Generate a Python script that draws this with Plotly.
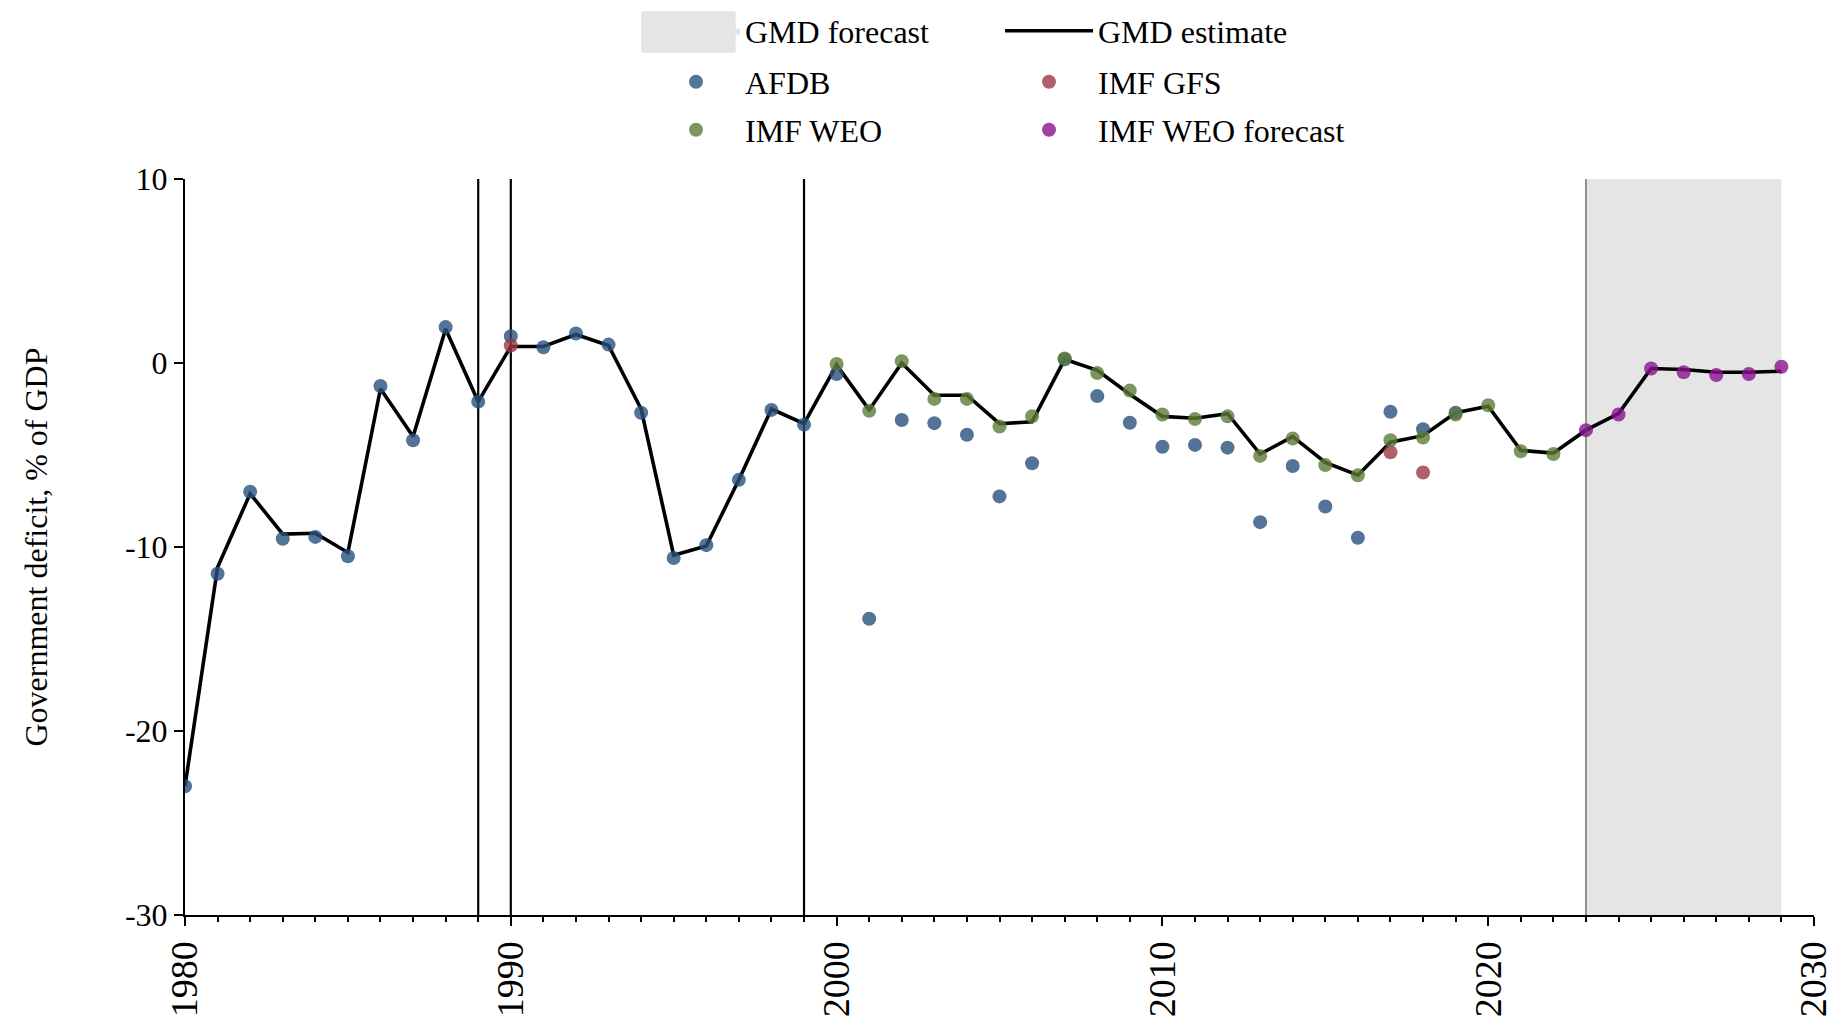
import plotly.graph_objects as go

# ---------------- data ----------------
gmd_years = list(range(1980, 2030))
gmd_estimate = [
    -23.0, -11.1, -7.1, -9.3, -9.25, -10.3, -1.4, -4.0, 1.85, -2.1,
    0.9, 0.9, 1.55, 0.95, -2.5, -10.45, -9.95, -6.35, -2.5, -3.3,
    -0.1, -2.55, 0.0, -1.75, -1.75, -3.3, -3.2, 0.2, -0.4, -1.7,
    -2.9, -3.0, -2.75, -4.95, -4.0, -5.4, -6.1, -4.3, -3.95, -2.7,
    -2.35, -4.75, -4.9, -3.65, -2.75, -0.3, -0.35, -0.5, -0.5, -0.45,
]

afdb_years = list(range(1980, 2020))
afdb_values = [
    -23.0, -11.45, -7.0, -9.55, -9.45, -10.5, -1.25, -4.2, 1.95, -2.1,
    1.45, 0.86, 1.6, 1.0, -2.7, -10.6, -9.9, -6.35, -2.55, -3.35,
    -0.6, -13.9, -3.1, -3.27, -3.9, -7.25, -5.45, 0.2, -1.8, -3.25,
    -4.55, -4.45, -4.6, -8.65, -5.6, -7.8, -9.5, -2.65, -3.6, -2.7,
]

gfs_years = [1990, 2017, 2018]
gfs_values = [0.95, -4.85, -5.95]

weo_years = list(range(2000, 2023))
weo_values = [
    -0.05, -2.6, 0.1, -1.95, -1.95, -3.45, -2.9, 0.25, -0.55, -1.5,
    -2.8, -3.05, -2.9, -5.05, -4.1, -5.55, -6.1, -4.2, -4.05, -2.8,
    -2.3, -4.8, -4.95,
]

weo_fc_years = list(range(2023, 2030))
weo_fc_values = [-3.65, -2.8, -0.3, -0.5, -0.65, -0.6, -0.2]

forecast_start, forecast_end = 2023, 2029
break_years = [1989, 1990, 1999]

x_range = [1980, 2030]
y_range = [-30, 10]
y_tick_vals = [-30, -20, -10, 0, 10]
y_tick_labels = ["-30", "-20", "-10", "0", "10"]
x_tick_vals = [1980, 1990, 2000, 2010, 2020, 2030]
x_tick_labels = ["1980", "1990", "2000", "2010", "2020", "2030"]

# ---------------- style ----------------
W, H = 1837, 1019
FONT = "Liberation Serif"
ML, MR, MT, MB = 185, 23, 179, 104
PW, PH = W - ML - MR, H - MT - MB

col_afdb = "rgba(40,80,125,0.8)"
col_gfs = "rgba(156,56,64,0.8)"
col_weo = "rgba(92,124,55,0.8)"
col_weo_fc = "rgba(136,17,142,0.8)"
grey = "#e5e5e5"

fig = go.Figure()

fig.add_trace(go.Scatter(
    x=[forecast_start, forecast_end, forecast_end, forecast_start, forecast_start],
    y=[y_range[0], y_range[0], y_range[1], y_range[1], y_range[0]],
    mode="lines", fill="toself", fillcolor=grey, line=dict(width=0, color=grey),
    name="GMD forecast", legend="legend", hoverinfo="skip",
))
fig.add_trace(go.Scatter(
    x=gmd_years, y=gmd_estimate, mode="lines",
    line=dict(color="black", width=3.6), name="GMD estimate", legend="legend",
))
marker_series = [
    ("AFDB", afdb_years, afdb_values, col_afdb, "legend2"),
    ("IMF GFS", gfs_years, gfs_values, col_gfs, "legend2"),
    ("IMF WEO", weo_years, weo_values, col_weo, "legend3"),
    ("IMF WEO forecast", weo_fc_years, weo_fc_values, col_weo_fc, "legend3"),
]
for name, xs, ys, col, lg in marker_series:
    fig.add_trace(go.Scatter(
        x=xs, y=ys, mode="markers", name=name, legend=lg,
        marker=dict(size=14, color=col, line=dict(width=0)),
    ))

shapes = []
for yr in break_years:
    shapes.append(dict(type="line", xref="x", yref="y", x0=yr, x1=yr,
                       y0=y_range[0], y1=y_range[1],
                       line=dict(color="black", width=2.2), layer="below"))
shapes.append(dict(type="line", xref="x", yref="y", x0=forecast_start, x1=forecast_start,
                   y0=y_range[0], y1=y_range[1],
                   line=dict(color="#555555", width=1.2), layer="above"))
# legend swatch box for "GMD forecast"
bx0, bx1, by0, by1 = 642, 735, 12, 52
shapes.append(dict(type="rect", xref="paper", yref="paper",
                   x0=(bx0 - ML) / PW, x1=(bx1 - ML) / PW,
                   y0=(H - MB - by1) / PH, y1=(H - MB - by0) / PH,
                   fillcolor=grey, line=dict(color="#dddddd", width=1), layer="below"))


def legend_row(yc):
    return dict(
        orientation="h", xref="container", yref="container",
        x=647 / W, y=1 - yc / H, xanchor="left", yanchor="middle",
        itemwidth=88, entrywidth=250, entrywidthmode="pixels",
        font=dict(family=FONT, size=32, color="black"),
        bgcolor="rgba(0,0,0,0)", borderwidth=0,
    )


fig.update_layout(
    width=W, height=H,
    margin=dict(l=ML, r=MR, t=MT, b=MB, autoexpand=False),
    paper_bgcolor="white", plot_bgcolor="white",
    font=dict(family=FONT, color="black"),
    showlegend=True,
    legend=legend_row(31),
    legend2=legend_row(82),
    legend3=legend_row(130),
    shapes=shapes,
    xaxis=dict(
        range=x_range, tickvals=x_tick_vals, ticktext=x_tick_labels,
        showline=True, linecolor="black", linewidth=2,
        ticks="outside", ticklen=9, tickwidth=2, tickcolor="black",
        tickangle=-90, tickfont=dict(family=FONT, size=38, color="black"),
        ticklabelstandoff=0,
        minor=dict(dtick=1, tick0=1980, ticks="outside", ticklen=5, tickwidth=1.5, tickcolor="black", showgrid=False),
        showgrid=False, zeroline=False, automargin=False,
    ),
    yaxis=dict(
        range=y_range, tickvals=y_tick_vals, ticktext=y_tick_labels,
        showline=True, linecolor="black", linewidth=2,
        ticks="outside", ticklen=9, tickwidth=2, tickcolor="black",
        tickfont=dict(family=FONT, size=32, color="black"),
        ticklabelstandoff=0,
        title=dict(text="Government deficit, % of GDP",
                   font=dict(family=FONT, size=32, color="black"), standoff=68),
        showgrid=False, zeroline=False, automargin=False,
    ),
)

fig.write_html(
    "out.html",
    config={"displayModeBar": False},
    post_script="document.body.style.margin='0px';document.body.style.overflow='hidden';",
)
